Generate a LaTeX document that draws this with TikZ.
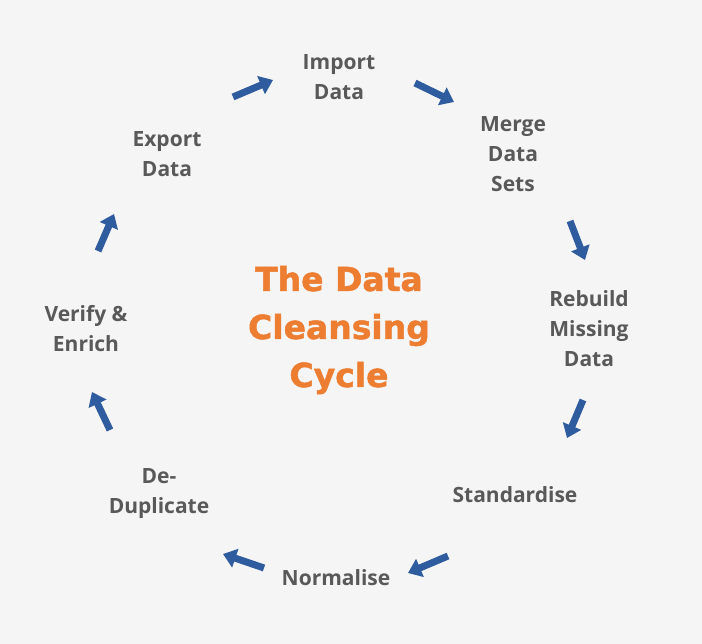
\documentclass[tikz,border=0pt]{standalone}
\usepackage{fontspec}
\setmainfont{Open Sans}
\newfontfamily\titlefont[BoldFeatures={FakeBold=1.5}]{DejaVu Sans}
\usetikzlibrary{arrows.meta}
\definecolor{bg}{HTML}{F5F5F5}
\definecolor{lbl}{HTML}{595959}
\definecolor{arr}{HTML}{2E5C9E}
\definecolor{ttl}{HTML}{ED7D31}
\begin{document}
\begin{tikzpicture}[x=1pt,y=-1pt,
  lab/.style={text=lbl,font=\fontsize{21}{30}\selectfont\bfseries,align=center,inner sep=0pt},
  cyc/.style={draw=arr,line width=7pt,-{Triangle[length=13pt,width=19pt]}}]
\fill[bg] (0,0) rectangle (702,644);
\useasboundingbox (0,0) rectangle (702,644);
\node[lab] (imp) at (339,77) {Import\\Data};
\node[lab] (mrg) at (513,154) {Merge\\Data\\Sets};
\node[lab] (reb) at (589,329) {Rebuild\\Missing\\Data};
\node[lab] (std) at (515,495) {Standardise};
\node[lab] (nrm) at (336,578) {Normalise};
\node[lab] (ded) at (159,494) {De-\\Duplicate};
\node[lab] (ver) at (86,329) {Verify \&\\Enrich};
\node[lab] (exp) at (167,154) {Export\\Data};
\node[text=ttl,font=\titlefont\fontsize{33}{48}\selectfont\bfseries,align=center,inner sep=0pt] (title) at (339,330) {The Data\\Cleansing\\Cycle};
\coordinate (a1s) at (233,97);  \coordinate (a1e) at (273,80);
\coordinate (a2s) at (415,83);  \coordinate (a2e) at (454,102);
\coordinate (a3s) at (570,221); \coordinate (a3e) at (585,260);
\coordinate (a4s) at (583,400); \coordinate (a4e) at (567,438);
\coordinate (a5s) at (448,556); \coordinate (a5e) at (408,573);
\coordinate (a6s) at (264,568); \coordinate (a6e) at (223,554);
\coordinate (a7s) at (110,430); \coordinate (a7e) at (92,392);
\coordinate (a8s) at (98,251);  \coordinate (a8e) at (114,214);
\draw[cyc] (a1s) -- (a1e);
\draw[cyc] (a2s) -- (a2e);
\draw[cyc] (a3s) -- (a3e);
\draw[cyc] (a4s) -- (a4e);
\draw[cyc] (a5s) -- (a5e);
\draw[cyc] (a6s) -- (a6e);
\draw[cyc] (a7s) -- (a7e);
\draw[cyc] (a8s) -- (a8e);
\end{tikzpicture}
\end{document}
